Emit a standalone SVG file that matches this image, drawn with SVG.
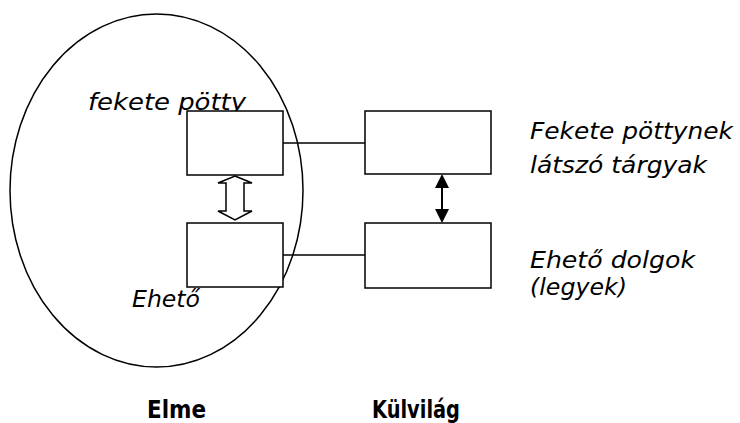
<svg xmlns="http://www.w3.org/2000/svg" width="740" height="423" viewBox="0 0 740 423">
<style>
.ln{stroke:#000;stroke-width:1.5;fill:none}
.bx{stroke:#000;stroke-width:1.5;fill:#fff}
.it{font-family:"DejaVu Sans",sans-serif;font-style:italic;font-size:23px;fill:#000}
.bd{font-family:"DejaVu Sans",sans-serif;font-weight:bold;font-size:24px;fill:#000}
</style>
<rect width="740" height="423" fill="#fff"/>
<g id="mind">
<ellipse cx="156.5" cy="190.5" rx="146.5" ry="176.5" class="ln"/>
</g>
<text class="it" x="88" y="109.5" textLength="158" lengthAdjust="spacingAndGlyphs">fekete pötty</text>
<g id="connectors">
<line x1="283" y1="143" x2="365" y2="143" class="ln"/>
<line x1="283" y1="255" x2="365" y2="255" class="ln"/>
<polygon points="235,176 252,183 244,183 244,211 252,211 235,220 218,211 226,211 226,183 218,183" fill="#fff" stroke="#000" stroke-width="1.5"/>
<line x1="442" y1="186" x2="442" y2="211" stroke="#000" stroke-width="2"/>
<polygon points="442,174 435,188 449,188" fill="#000"/>
<polygon points="442,223 435,209 449,209" fill="#000"/>
</g>
<g id="mind-dot"><rect x="187" y="111" width="96" height="64" class="bx"/></g>
<g id="mind-food"><rect x="187" y="223" width="96" height="64" class="bx"/></g>
<g id="world-dot"><rect x="365" y="111" width="126" height="63" class="bx"/></g>
<g id="world-food"><rect x="365" y="223" width="126" height="65" class="bx"/></g>
<text class="it" x="132" y="307" textLength="68" lengthAdjust="spacingAndGlyphs">Ehető</text>
<text class="it" x="530" y="139" textLength="203" lengthAdjust="spacingAndGlyphs">Fekete pöttynek</text>
<text class="it" x="530" y="173" textLength="177" lengthAdjust="spacingAndGlyphs">látszó tárgyak</text>
<text class="it" x="530" y="268" textLength="165" lengthAdjust="spacingAndGlyphs">Ehető dolgok</text>
<text class="it" x="530" y="295" textLength="97" lengthAdjust="spacingAndGlyphs">(legyek)</text>
<text class="bd" x="147" y="418" textLength="59" lengthAdjust="spacingAndGlyphs">Elme</text>
<text class="bd" x="372" y="418" textLength="88" lengthAdjust="spacingAndGlyphs">Külvilág</text>
</svg>
